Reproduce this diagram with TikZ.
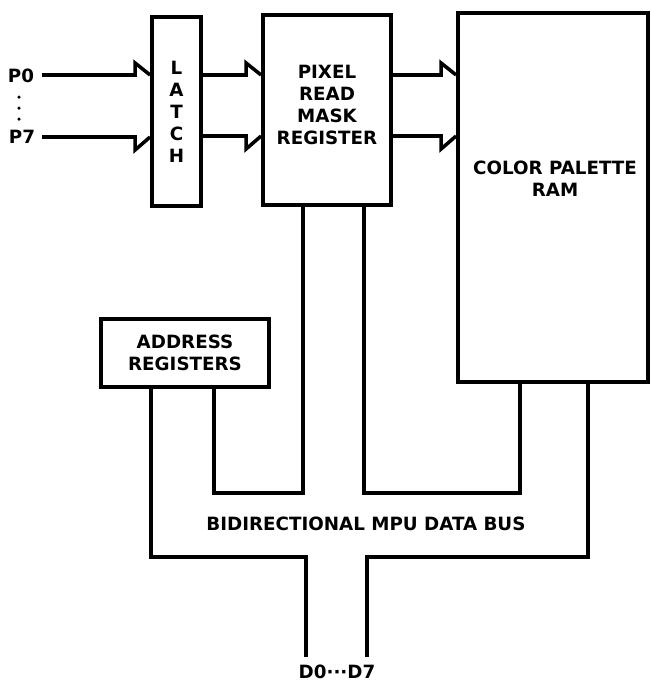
\documentclass[tikz,border=0pt]{standalone}
\usepackage{fontspec}
\setmainfont{DejaVu Sans}
\usetikzlibrary{positioning,calc}

\tikzset{
    blk/.style={draw, line width=2.2pt, inner sep=0pt, align=center,
        font=\bfseries\fontsize{10.4}{12.5}\selectfont},
    lbl/.style={inner sep=0pt, align=center,
        font=\bfseries\fontsize{10.4}{12.5}\selectfont},
    wire/.style={line width=2pt}
}
% bus arrow into a block, notch up / notch down
\newcommand{\busup}[2]{\draw[wire] (#1) -- ($(#1 -| #2.west)+(-15,0)$) -- ++(0,-12) -- (#1 -| #2.west);}
\newcommand{\busdn}[2]{\draw[wire] (#1) -- ($(#1 -| #2.west)+(-15,0)$) -- ++(0,13) -- (#1 -| #2.west);}

\begin{document}
\begin{tikzpicture}[x=0.02cm, y=-0.02cm]
    \useasboundingbox (0,0) rectangle (650,683);

    % blocks
    \node[blk, minimum width=0.98cm, minimum height=3.78cm] (latch) at (176.5,111.5) {L\\A\\T\\C\\H};
    \node[blk, minimum width=2.56cm, minimum height=3.8cm] (pixreg) at (327,110) {};
    \node[lbl] (pixtext) at (327,105) {PIXEL\\READ\\MASK\\REGISTER};
    \node[blk, minimum width=3.8cm, minimum height=7.38cm] (ram) at (553,197.5) {};
    \node[lbl] (ramtext) at (555,179) {COLOR PALETTE\\RAM};
    \node[blk, minimum width=3.36cm, minimum height=1.36cm] (addr) at (185,353) {ADDRESS\\REGISTERS};

    % pixel inputs
    \node[lbl] (p0lbl) at (21,76) {P0};
    \node[lbl] (p7lbl) at (22,137) {P7};
    \foreach \y in {97,108,119}
        \fill (19,\y) circle[radius=0.035cm];

    \coordinate (in0) at (42,75);
    \coordinate (in7) at (42,137);
    \coordinate (l0) at (latch.east |- in0);
    \coordinate (l7) at (latch.east |- 0,136);
    \coordinate (r0) at (pixreg.east |- in0);
    \coordinate (r7) at (pixreg.east |- l7);

    \busup{in0}{latch}
    \busdn{in7}{latch}
    \busup{l0}{pixreg}
    \busdn{l7}{pixreg}
    \busup{r0}{ram}
    \busdn{r7}{ram}

    % data bus
    \coordinate (a1) at ($(addr.south west)+(52,0)$);
    \coordinate (a2) at ($(addr.south west)+(115,0)$);
    \coordinate (g1) at ($(pixreg.south west)+(42,0)$);
    \coordinate (g2) at ($(pixreg.south west)+(103,0)$);
    \coordinate (m1) at ($(ram.south west)+(64,0)$);
    \coordinate (m2) at ($(ram.south west)+(132,0)$);
    \coordinate (innerbus) at (0,493);
    \coordinate (outerbus) at (0,557);
    \coordinate (d0) at (306,657);
    \coordinate (d7) at (367,657);

    \draw[wire] (a2) |- (innerbus -| g1) -- (g1);
    \draw[wire] (g2) |- (innerbus -| m1) -- (m1);
    \draw[wire] (a1) |- (outerbus -| d0) -- (d0);
    \draw[wire] (m2) |- (outerbus -| d7) -- (d7);

    \node[lbl] (buslbl) at (366,524) {BIDIRECTIONAL MPU DATA BUS};
    \node[lbl] (dlbl) at (337,672) {D0···D7};
\end{tikzpicture}
\end{document}
